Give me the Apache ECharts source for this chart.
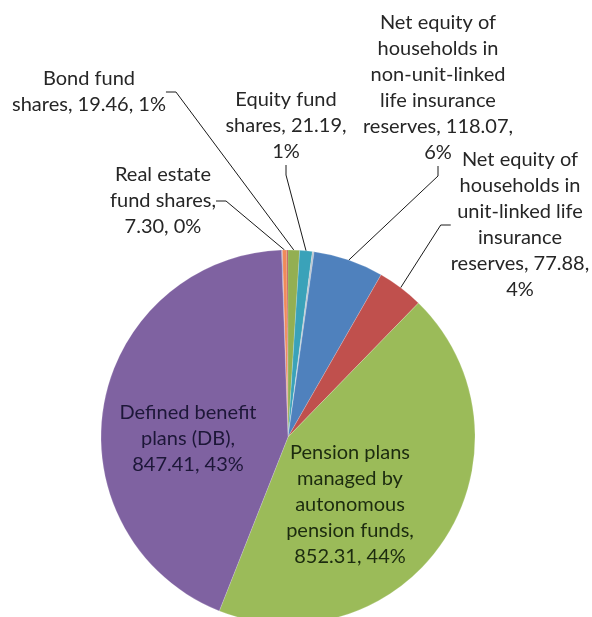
<!DOCTYPE html>
<html>
<head>
<meta charset="utf-8">
<script src="https://cdn.jsdelivr.net/npm/echarts@6/dist/echarts.min.js"></script>
<style>
html,body{margin:0;padding:0;background:#fff;}
#chart{width:592px;height:617px;}
</style>
</head>
<body>
<div id="chart"></div>
<script>
// ---- data (clockwise from the top of the pie) ----
const categories = [
  '',
  'Real estate fund shares',
  '',
  'Bond fund shares',
  'Equity fund shares',
  '',
  'Net equity of households in non-unit-linked life insurance reserves',
  'Net equity of households in unit-linked life insurance reserves',
  'Pension plans managed by autonomous pension funds',
  'Defined benefit plans (DB)'
];
const values = [1.5, 7.30, 2.0, 19.46, 21.19, 3.0, 118.07, 77.88, 852.31, 847.41];
// label text templates ({v} value, {p} percent), line breaks as in the original
const labelTemplates = [
  '',
  'Real estate\nfund shares,\n{v}, {p}',
  '',
  'Bond fund\nshares, {v}, {p}',
  'Equity fund\nshares, {v},\n{p}',
  '',
  'Net equity of\nhouseholds in\nnon-unit-linked\nlife insurance\nreserves, {v},\n{p}',
  'Net equity of\nhouseholds in\nunit-linked life\ninsurance\nreserves, {v},\n{p}',
  'Pension plans\nmanaged by\nautonomous\npension funds,\n{v}, {p}',
  'Defined benefit\nplans (DB),\n{v}, {p}'
];

// ---- styles / layout ----
const colors = ['#8A86C8', '#F08A5A', '#B04A44', '#93AF52', '#3AA2B9', '#B9C3CC', '#4F81BD', '#C0504D', '#9BBB59', '#7F62A1'];
const insideIdx = [8, 9];
const insideColors = {8: '#1c2b0f', 9: '#1d1738'};
const labelPos = {
  1: [163, 201],
  3: [89, 92],
  4: [286, 126],
  6: [438, 88],
  7: [520, 225],
  8: [350, 505],
  9: [188, 439]
};

const total = values.reduce((a, b) => a + b, 0);
const fontFamily = 'Lato, "Open Sans", sans-serif';

const pieData = categories.map((name, i) => {
  const item = {
    name: name || ('_' + i),
    value: values[i],
    itemStyle: {color: colors[i]}
  };
  if (!labelTemplates[i]) {
    item.label = {show: false};
    item.labelLine = {show: false};
  } else if (insideIdx.includes(i)) {
    item.label = {show: true, position: 'inside', color: insideColors[i]};
    item.labelLine = {show: false};
  }
  return item;
});

const chart = echarts.init(document.getElementById('chart'), null, {renderer: 'canvas'});
chart.setOption({
  backgroundColor: '#ffffff',
  animation: false,
  series: [{
    type: 'pie',
    center: [288, 437],
    radius: 187,
    startAngle: 92,
    clockwise: true,
    avoidLabelOverlap: false,
    data: pieData,
    itemStyle: {borderColor: 'rgba(255,255,255,0.35)', borderWidth: 0.5},
    label: {
      show: true,
      position: 'outside',
      fontFamily: fontFamily,
      fontSize: 20,
      lineHeight: 26,
      color: '#262626',
      align: 'center',
      formatter: function (p) {
        const t = labelTemplates[p.dataIndex];
        const v = values[p.dataIndex].toFixed(2);
        const pct = Math.round(values[p.dataIndex] / total * 100) + '%';
        return t.replace('{v}', v).replace('{p}', pct);
      }
    },
    labelLine: {
      show: true,
      length: 10,
      length2: 10,
      lineStyle: {color: '#1a1a1a', width: 1}
    },
    labelLayout: function (params) {
      const pos = labelPos[params.dataIndex];
      if (!pos) return {};
      return {x: pos[0], y: pos[1], align: 'center', verticalAlign: 'middle'};
    },
    emphasis: {disabled: true}
  }]
});
</script>
</body>
</html>
